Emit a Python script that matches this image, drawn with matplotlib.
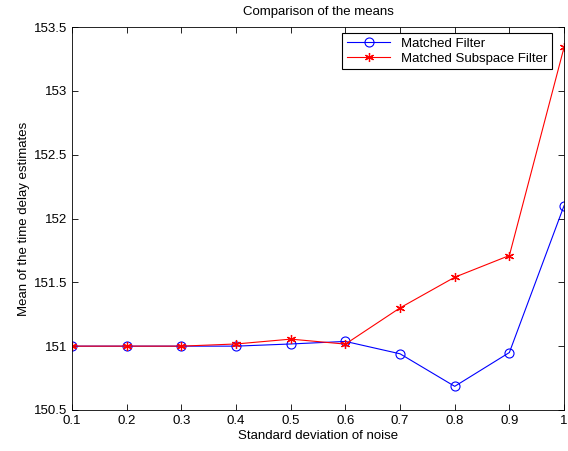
import numpy as np
import matplotlib
matplotlib.use("Agg")
import matplotlib.pyplot as plt

plt.rcParams['font.family'] = ['Liberation Sans', 'DejaVu Sans']

sigma = [0.1, 0.2, 0.3, 0.4, 0.5, 0.6, 0.7, 0.8, 0.9, 1.0]
mf_mean = [151.0, 151.0, 151.0, 151.0, 151.017, 151.037, 150.94, 150.685, 150.95, 152.1]
msf_mean = [151.0, 151.0, 151.0, 151.017, 151.055, 151.016, 151.3, 151.54, 151.71, 153.34]

fig = plt.figure(figsize=(5.68, 4.51), dpi=100)
ax = fig.add_axes([0.127, 0.091, 0.866, 0.849])

ax.plot(sigma, mf_mean, color='blue', lw=0.8, marker='o', ms=6.5,
        mfc='none', mec='blue', mew=0.8, label='Matched Filter')
ax.plot(sigma, msf_mean, color='red', lw=0.8, marker=(6, 2, 0), ms=6.5,
        mec='red', mew=0.9, label='Matched Subspace Filter')

ax.set_xlim(0.1, 1.0)
ax.set_ylim(150.5, 153.5)
ax.set_xticks(np.arange(0.1, 1.01, 0.1))
ax.set_xticklabels(['0.1', '0.2', '0.3', '0.4', '0.5', '0.6', '0.7', '0.8', '0.9', '1'])
ax.set_yticks(np.arange(150.5, 153.51, 0.5))
ax.set_yticklabels(['150.5', '151', '151.5', '152', '152.5', '153', '153.5'])
ax.tick_params(direction='in', top=True, right=True, labelsize=9.5, length=4, width=0.6)
for s in ax.spines.values():
    s.set_linewidth(0.6)

ax.set_xlabel('Standard deviation of noise', fontsize=9.5, labelpad=2)
ax.set_ylabel('Mean of the time delay estimates', fontsize=9.5, labelpad=3)
ax.set_title('Comparison of the means', fontsize=9.5, pad=9)

leg = ax.legend(loc='upper right', bbox_to_anchor=(552 / 568, 1 - 33 / 451),
                bbox_transform=fig.transFigure, borderaxespad=0,
                fontsize=9.5, fancybox=False, framealpha=1,
                edgecolor='black', handlelength=3.3,
                borderpad=0.35, labelspacing=0.2)
leg.get_frame().set_linewidth(0.8)

fig.savefig('out.png', dpi=100)
